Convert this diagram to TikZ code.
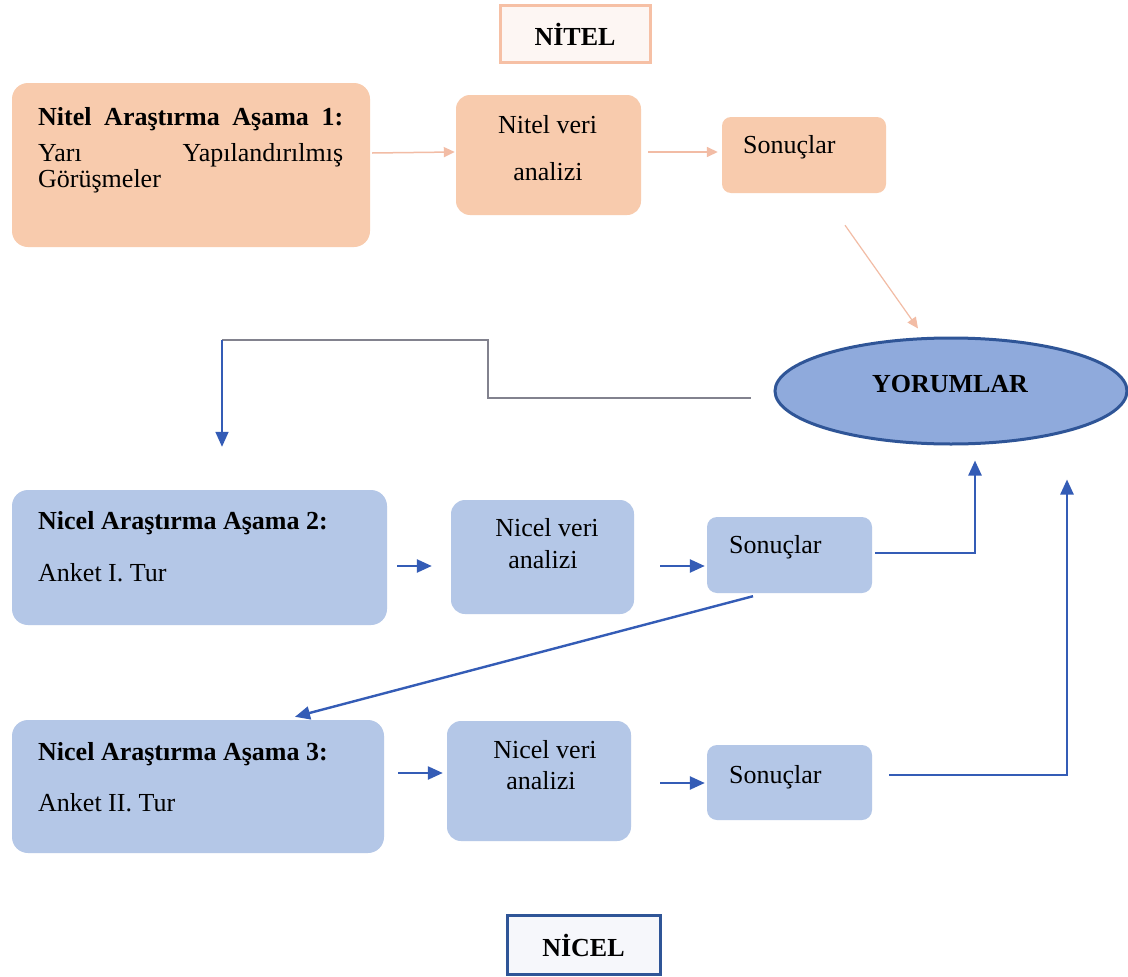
\documentclass[tikz,border=0pt]{standalone}
\usepackage{fontspec}
\setmainfont{Liberation Serif}
\usetikzlibrary{shapes.geometric,arrows.meta,calc}

\definecolor{peach}{RGB}{248,203,173}
\definecolor{peachline}{RGB}{242,188,165}
\definecolor{peachedge}{RGB}{246,192,165}
\definecolor{boxblue}{RGB}{180,199,231}
\definecolor{ovalblue}{RGB}{143,170,220}
\definecolor{darkblue}{RGB}{47,85,151}
\definecolor{linkblue}{RGB}{52,92,182}
\definecolor{linkgray}{RGB}{130,130,142}

\begin{document}
\begin{tikzpicture}[x=1pt,y=-1pt,
  font=\fontsize{26}{30}\selectfont,
  pbox/.style={rectangle, rounded corners=#1, fill=peach, draw=none, inner sep=0pt},
  pbox/.default=14pt,
  bbox/.style={rectangle, rounded corners=#1, fill=boxblue, draw=none, inner sep=0pt},
  bbox/.default=14pt,
  txt/.style={inner sep=0pt, anchor=base},
  txtl/.style={inner sep=0pt, anchor=base west},
  parrow/.style={draw=peachline, line width=1.5pt, -{Triangle[length=11pt,width=10pt]}},
  barrow/.style={draw=linkblue, line width=2.4pt, -{Triangle[length=15pt,width=13pt]}},
  gline/.style={draw=linkgray, line width=1.4pt},
  tag/.style={rectangle, line width=3pt, minimum width=#1, inner sep=0pt, font=\fontsize{26}{30}\selectfont\bfseries}
]
\useasboundingbox[fill=white] (0,0) rectangle (1128,977);

% ---- headings
\node[tag=150pt, minimum height=57pt, draw=peachedge, fill={rgb,255:red,253;green,246;blue,243}] (nitel) at (575,34) {NİTEL};
\node[tag=153pt, minimum height=59pt, draw=darkblue, fill={rgb,255:red,246;green,247;blue,251}] (nicel) at (583.5,945) {NİCEL};

% ---- qualitative row
\node[pbox=16pt, minimum width=358pt, minimum height=164pt] (b1) at (191,165) {};
\node[pbox, minimum width=185pt, minimum height=120pt] (b2) at (548.5,155) {};
\node[pbox=9pt, minimum width=164pt, minimum height=76pt] (b3) at (804,155) {};

% justified paragraph: first two lines spread over the full width
\node[inner sep=0pt, anchor=north west, text width=305pt, align=left] (t1) at (38,107)
  {\makebox[305pt]{\bfseries Nitel\hfill Araştırma\hfill Aşama\hfill 1:}\\[6pt]%
   \makebox[305pt]{Yarı\hfill Yapılandırılmış}\\[-4pt]Görüşmeler};
\node[txt] (t2a) at (547.5,133) {Nitel veri};
\node[txt] (t2b) at (548,180) {analizi};
\node[txtl] (t3) at (743,153) {Sonuçlar};

% ---- results oval
\node[ellipse, minimum width=352pt, minimum height=106pt, fill=ovalblue, draw=darkblue, line width=3pt] (ell) at (951,391) {};
\node[txt, font=\fontsize{26}{30}\selectfont\bfseries] (ty) at (950,392) {YORUMLAR};

% ---- quantitative round 1
\node[bbox=16pt, minimum width=375pt, minimum height=135pt] (b4) at (199.5,557.5) {};
\node[bbox, minimum width=183pt, minimum height=114pt] (b5) at (542.5,557) {};
\node[bbox=10pt, minimum width=165pt, minimum height=76pt] (b6) at (789.5,555) {};
\node[txtl] (t4a) at (38,529) {\textbf{Nicel Araştırma Aşama 2:}};
\node[txtl] (t4b) at (38,581) {Anket I. Tur};
\node[txt] (t5a) at (547,536) {Nicel veri};
\node[txt] (t5b) at (543,568) {analizi};
\node[txtl] (t6) at (729,553) {Sonuçlar};

% ---- quantitative round 2
\node[bbox=16pt, minimum width=372pt, minimum height=133pt] (b7) at (198,786.5) {};
\node[bbox, minimum width=184pt, minimum height=120pt] (b8) at (539,781) {};
\node[bbox=10pt, minimum width=165pt, minimum height=75pt] (b9) at (789.5,782.5) {};
\node[txtl] (t7a) at (38,760) {\textbf{Nicel Araştırma Aşama 3:}};
\node[txtl] (t7b) at (38,811) {Anket II. Tur};
\node[txt] (t8a) at (545,758) {Nicel veri};
\node[txt] (t8b) at (541,789) {analizi};
\node[txtl] (t9) at (729,783) {Sonuçlar};

% ---- qualitative connectors
\draw[parrow] ($(b1.east)+(2,-12)$) -- ($(b2.west)+(-1,-3)$);
\draw[parrow] ($(b2.east)+(7,-3)$) -- ($(b3.west)+(-4,-3)$);
\draw[parrow, line width=1.2pt] ($(b3.south)+(41,32)$) -- ($(ell.north)+(-33,-8)$);

% ---- feedback from the oval to round 1
\draw[gline] ($(ell.west)+(-23,7)$) -- (488,398) -- (488,340) -- (222,340);
\draw[barrow, line width=1.6pt] (222,340) -- ($(b4.north)+(22.5,-43)$);

% ---- quantitative connectors
\draw[barrow] ($(b4.east)+(10,8.5)$) -- ($(b5.west)+(-19,9)$);
\draw[barrow] ($(b5.east)+(26,9)$) -- ($(b6.west)+(-2,11)$);
\draw[barrow] ($(b6.east)+(3,-2)$) -| ($(ell.south)+(24,15)$);
\draw[barrow] ($(b6.south)+(-36.5,3)$) -- ($(b7.north)+(97,-3)$);
\draw[barrow] ($(b7.east)+(14,-13.5)$) -- ($(b8.west)+(-4,-8)$);
\draw[barrow] ($(b8.east)+(29,2)$) -- ($(b9.west)+(-2,0.5)$);
\draw[barrow] ($(b9.east)+(17,-7.5)$) -| ($(ell.south)+(116,34)$);
\end{tikzpicture}
\end{document}
